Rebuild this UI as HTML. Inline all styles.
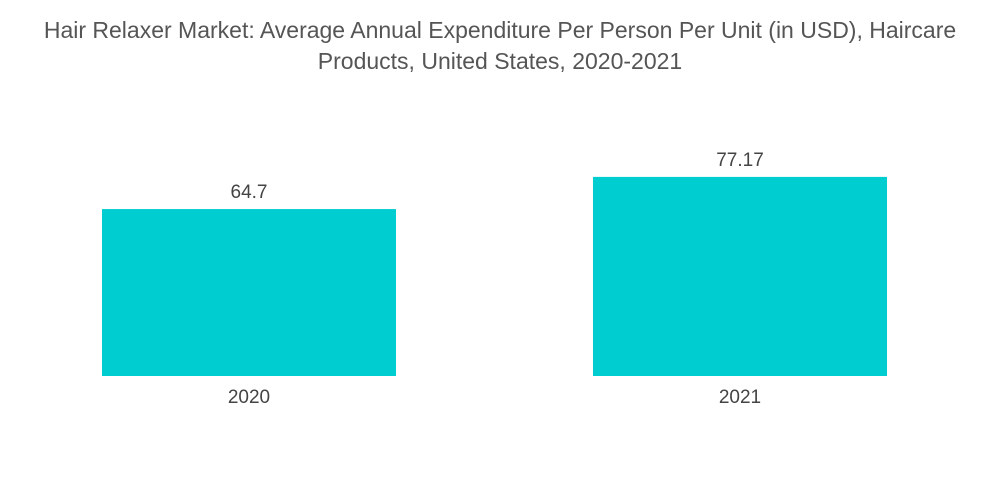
<!DOCTYPE html>
<html>
<head>
<meta charset="utf-8">
<style>
  html,body{margin:0;padding:0;background:#fff;}
  body{width:1000px;height:504px;overflow:hidden;font-family:"Liberation Sans",sans-serif;}
  .title{position:absolute;left:0;top:15px;width:1000px;text-align:center;color:#555;font-size:23px;line-height:31px;white-space:nowrap;}
</style>
</head>
<body>
<div class="title">Hair Relaxer Market: Average Annual Expenditure Per Person Per Unit (in USD), Haircare<br>Products, United States, 2020-2021</div>
<svg id="chart" width="1000" height="504" style="position:absolute;left:0;top:0"></svg>
<script>
const categories = ["2020", "2021"];
const values = [64.7, 77.17];
const valueLabels = ["64.7", "77.17"];

const svg = document.getElementById('chart');
const NS = 'http://www.w3.org/2000/svg';
const baseline = 376, pxPerUnit = 2.58;
const barStarts = 102, band = 491, barW = 294;
function yScale(v){ return baseline - v * pxPerUnit; }
function xScale(i){ return barStarts + i * band; }

categories.forEach((c, i) => {
  const x = xScale(i), y = yScale(values[i]);
  const r = document.createElementNS(NS, 'rect');
  r.setAttribute('x', x); r.setAttribute('y', y);
  r.setAttribute('width', barW); r.setAttribute('height', baseline - y);
  r.setAttribute('fill', '#00CDD0');
  
  
  svg.appendChild(r);

  const t = document.createElementNS(NS, 'text');
  t.setAttribute('x', x + barW / 2); t.setAttribute('y', y - 11);
  t.setAttribute('text-anchor', 'middle');
  t.setAttribute('font-size', '19'); t.setAttribute('fill', '#444');
  t.setAttribute('font-family', 'Liberation Sans, sans-serif');
  t.textContent = valueLabels[i];
  
  
  svg.appendChild(t);

  const l = document.createElementNS(NS, 'text');
  l.setAttribute('x', x + barW / 2); l.setAttribute('y', baseline + 27);
  l.setAttribute('text-anchor', 'middle');
  l.setAttribute('font-size', '19'); l.setAttribute('fill', '#444');
  l.setAttribute('font-family', 'Liberation Sans, sans-serif');
  l.textContent = c;
  
  
  svg.appendChild(l);
});
</script>
</body>
</html>
